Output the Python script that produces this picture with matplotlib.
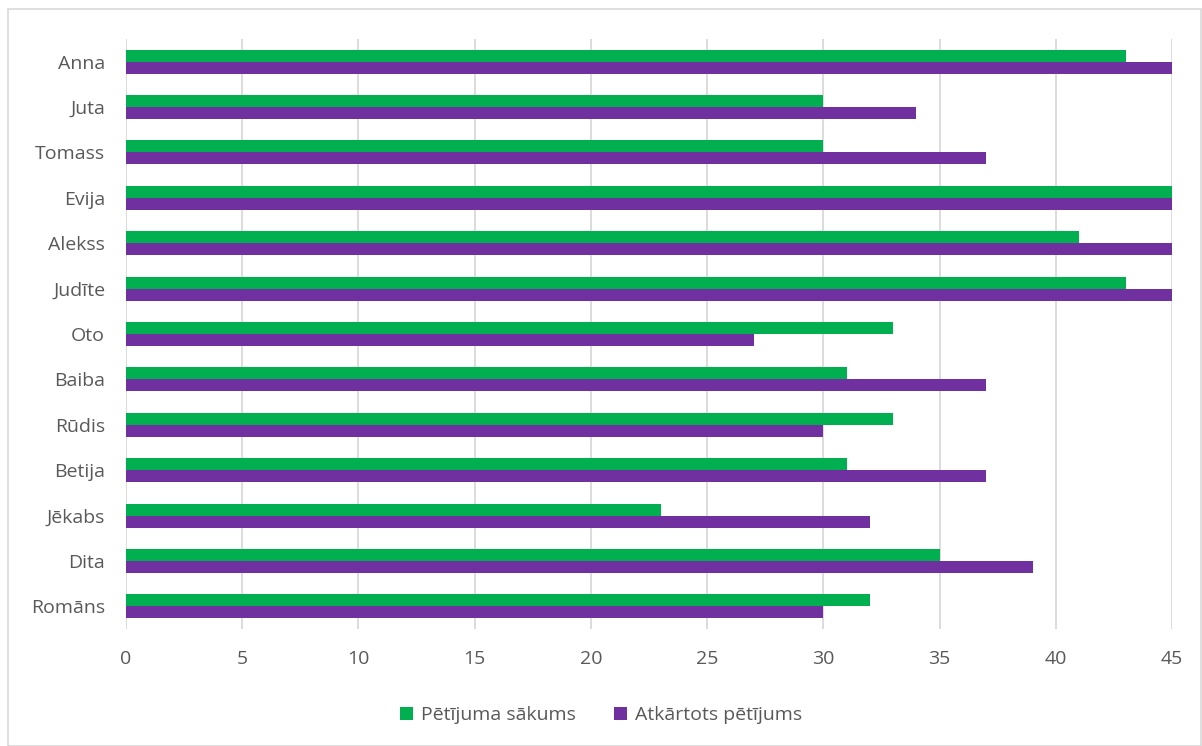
import matplotlib
matplotlib.use("Agg")
import matplotlib.pyplot as plt
from matplotlib.patches import Rectangle
import numpy as np

categories = ["Anna", "Juta", "Tomass", "Evija", "Alekss", "Judīte", "Oto",
              "Baiba", "Rūdis", "Betija", "Jēkabs", "Dita", "Romāns"]
start_values = [43, 30, 30, 45, 41, 43, 33, 31, 33, 31, 23, 35, 32]
repeat_values = [45, 34, 37, 45, 45, 45, 27, 37, 30, 37, 32, 39, 30]
series_names = ["Pētījuma sākums", "Atkārtots pētījums"]
xticks = [0, 5, 10, 15, 20, 25, 30, 35, 40, 45]

plt.rcParams['font.family'] = ['Open Sans', 'DejaVu Sans']
txt = '#595959'

fig = plt.figure(figsize=(12.02, 7.46), dpi=100)
ax = fig.add_axes([126/1202, 1-629/746, (1172-126)/1202, (629-39)/746])

n = len(categories)
y = np.arange(n)
h = 0.265
ax.barh(y - h/2, start_values, height=h, color='#00B050', label=series_names[0], zorder=3)
ax.barh(y + h/2, repeat_values, height=h, color='#7030A0', label=series_names[1], zorder=3)

ax.set_ylim(n - 0.5, -0.5)
ax.set_xlim(0, 45)
ax.set_xticks(xticks)
ax.set_yticks(y)
ax.set_yticklabels(categories)
ax.grid(axis='x', color='#D9D9D9', linewidth=1.3, zorder=0)
for s in ax.spines.values():
    s.set_visible(False)
ax.tick_params(axis='both', length=0, colors=txt, labelsize=14)
ax.tick_params(axis='x', pad=15)
ax.tick_params(axis='y', pad=15)

fig.legend(loc='center', bbox_to_anchor=(0.5, 1-715/746), ncol=2, frameon=False,
           fontsize=14, handlelength=0.65, handleheight=0.65, columnspacing=2.0,
           handletextpad=0.4, labelcolor=txt)

fig.patches.append(Rectangle((8/1202, 0), 1-8/1202-1/1202, 1-9/746, transform=fig.transFigure,
                             fill=False, edgecolor='#D9D9D9', linewidth=1.2))

fig.savefig("out.png", dpi=100)
